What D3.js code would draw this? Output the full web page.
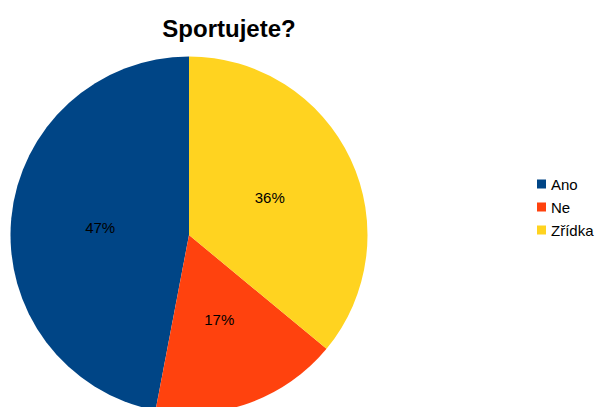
<!DOCTYPE html>
<html>
<head>
<meta charset="utf-8">
<script src="https://cdn.jsdelivr.net/npm/d3@7"></script>
<style>
  html, body { margin: 0; padding: 0; background: #fff; }
  svg { display: block; font-family: "Liberation Sans", Arial, sans-serif; }
</style>
</head>
<body>
<svg id="chart" width="599" height="407"></svg>
<script>
// Survey answers: "Sportujete?"
const categories = ["Ano", "Ne", "Zřídka"];
const values = [47, 17, 36];
const colors = ["#004586", "#ff420e", "#ffd320"];
const title = "Sportujete?";

const svg = d3.select("#chart");
const cx = 189, cy = 235, radius = 178.5;

svg.append("text")
  .attr("x", 229).attr("y", 37)
  .attr("text-anchor", "middle")
  .attr("font-size", 24).attr("font-weight", "bold")
  .attr("fill", "#000")
  .text(title);

const data = categories.map((c, i) => ({ name: c, value: values[i], color: colors[i] }));

// Slices run counter-clockwise from 12 o'clock
const pie = d3.pie().value(d => d.value).sort(null)
  .startAngle(2 * Math.PI).endAngle(0);
const arc = d3.arc().innerRadius(0).outerRadius(radius);
const labelArc = d3.arc().innerRadius(radius * 0.5).outerRadius(radius * 0.5);
const total = d3.sum(values);

const g = svg.append("g").attr("transform", `translate(${cx},${cy})`);
const arcs = pie(data);

g.selectAll("path").data(arcs).join("path")
  .attr("d", arc)
  .attr("fill", d => d.data.color);

g.selectAll("text").data(arcs).join("text")
  .attr("transform", d => {
    const [x, y] = labelArc.centroid(d);
    return `translate(${x},${y + 1})`;
  })
  .attr("text-anchor", "middle")
  .attr("dominant-baseline", "central")
  .attr("font-size", 15)
  .attr("fill", "#000")
  .text(d => Math.round(d.data.value / total * 100) + "%");

// Legend
const legend = svg.append("g").attr("transform", "translate(537,184)");
const rows = legend.selectAll("g").data(data).join("g")
  .attr("transform", (d, i) => `translate(0,${i * 23})`);
rows.append("rect")
  .attr("x", 0).attr("y", -4.5).attr("width", 9).attr("height", 9)
  .attr("fill", d => d.color);
rows.append("text")
  .attr("x", 14).attr("y", 0.5)
  .attr("dominant-baseline", "central")
  .attr("font-size", 15).attr("fill", "#000")
  .text(d => d.name);
</script>
</body>
</html>
